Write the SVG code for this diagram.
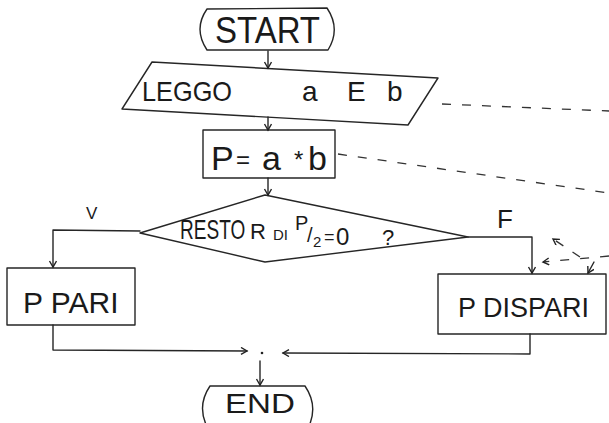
<svg xmlns="http://www.w3.org/2000/svg" width="609" height="423" viewBox="0 0 609 423">
  <defs>
    <marker id="arr" markerWidth="10" markerHeight="10" refX="7" refY="4" orient="auto" markerUnits="userSpaceOnUse">
      <path d="M1,0.5 L7,4 L1,7.5" fill="none" stroke="#222" stroke-width="1.4"/>
    </marker>
  </defs>
  <style>
    .ln{fill:none;stroke:#262626;stroke-width:1.4;stroke-linecap:round;stroke-linejoin:round}
    .dash{fill:none;stroke:#333;stroke-width:1.3;stroke-dasharray:9 11}
    .t{font-family:"Liberation Sans",Arial,sans-serif;fill:#1a1a1a}
  </style>
  <rect width="609" height="423" fill="#fff"/>

  <!-- start terminal -->
  <g id="start">
    <path class="ln" d="M207,9 L327,8 Q341,29 328,50 L207,50 Q193,29 207,9 Z"/>
    <text class="t" x="215" y="43" font-size="36" textLength="105" lengthAdjust="spacingAndGlyphs">START</text>
  </g>

  <!-- input: read a and b -->
  <g id="read">
    <path class="ln" d="M152,62 L438,78 L408,125 L122,109 Z"/>
    <text class="t" y="101" font-size="28"><tspan x="142" textLength="90" lengthAdjust="spacingAndGlyphs">LEGGO</tspan><tspan x="302">a</tspan><tspan x="347">E</tspan><tspan x="387">b</tspan></text>
  </g>

  <!-- product -->
  <g id="product">
    <rect class="ln" x="203" y="130" width="132" height="48"/>
    <text class="t" y="170" font-size="34"><tspan x="211">P</tspan><tspan x="236" font-size="24" dy="-2">=</tspan><tspan x="262" dy="2">a</tspan><tspan x="294" font-size="24" dy="-2">*</tspan><tspan x="308" dy="2">b</tspan></text>
  </g>

  <!-- decision: remainder of P/2 -->
  <g id="test">
    <path class="ln" d="M140,233 L265,195 L468,237 L265,262 Z"/>
    <text class="t" font-size="28" transform="translate(180,239) scale(0.68,1)">RESTO</text>
    <text class="t" y="239" font-size="22"><tspan x="250">R</tspan><tspan x="273" font-size="15" dy="1">DI</tspan><tspan x="295" font-size="20" dy="-10">P</tspan><tspan x="307" font-size="20" dy="12">/</tspan><tspan x="313" font-size="15" dy="5">2</tspan><tspan x="324" font-size="18" dy="-4">=</tspan><tspan x="336" font-size="24" dy="2">0</tspan><tspan x="382" font-size="22" dy="0">?</tspan></text>
  </g>

  <!-- true branch -->
  <g id="even">
    <rect class="ln" x="7" y="268" width="128" height="57"/>
    <text class="t" x="23" y="313" font-size="30">P PARI</text>
  </g>

  <!-- false branch -->
  <g id="odd">
    <rect class="ln" x="438" y="274" width="168" height="60"/>
    <text class="t" x="458" y="317" font-size="27">P DISPARI</text>
  </g>

  <!-- end terminal -->
  <g id="end">
    <path class="ln" d="M210,386 L305,386 Q320,408 306,432 L210,432 Q195,408 210,386 Z"/>
    <text class="t" x="225" y="413" font-size="28" textLength="70" lengthAdjust="spacingAndGlyphs">END</text>
  </g>

  <!-- flow lines and branch labels -->
  <g id="connectors">
    <line class="ln" x1="268" y1="51" x2="268" y2="68" marker-end="url(#arr)"/>
    <line class="ln" x1="268" y1="117" x2="268" y2="130" marker-end="url(#arr)"/>
    <line class="ln" x1="268" y1="178" x2="268" y2="195" marker-end="url(#arr)"/>
    <path class="ln" d="M140,231 L53,230 L53,267" marker-end="url(#arr)"/>
    <path class="ln" d="M468,237 L532,237 L532,273" marker-end="url(#arr)"/>
    <path class="ln" d="M53,325 L53,350 L247,351" marker-end="url(#arr)"/>
    <path class="ln" d="M530,334 L530,354 L283,353" marker-end="url(#arr)"/>
    <circle cx="262" cy="353" r="1.3" fill="#222"/>
    <line class="ln" x1="260" y1="361" x2="260" y2="385" marker-end="url(#arr)"/>
    <text class="t" x="86" y="219" font-size="17">V</text>
    <text class="t" x="497" y="228" font-size="26">F</text>

    <line class="dash" x1="442" y1="104" x2="609" y2="111"/>
    <line class="dash" x1="338" y1="154" x2="609" y2="193"/>
    <line class="dash" x1="609" y1="256" x2="543" y2="262" marker-end="url(#arr)"/>
    <line class="dash" x1="580" y1="257" x2="553" y2="239" stroke-dasharray="6 6" marker-end="url(#arr)"/>
    <line class="ln" x1="594" y1="262" x2="588" y2="273" marker-end="url(#arr)"/>
  </g>
</svg>
